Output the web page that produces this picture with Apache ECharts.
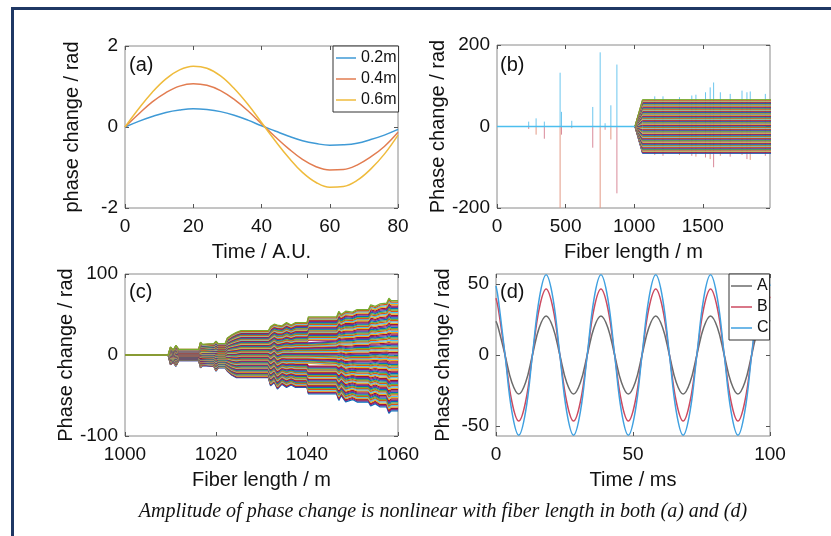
<!DOCTYPE html>
<html>
<head>
<meta charset="utf-8">
<script src="https://cdn.jsdelivr.net/npm/echarts@6/dist/echarts.min.js"></script>
<style>
  html, body { margin: 0; padding: 0; background: #fff; }
  #chart { width: 831px; height: 536px; }
</style>
</head>
<body>
<div id="chart"></div>
<script>
// ---------- (a) phase change vs time for three fibre lengths ----------
const timeAU = [0, 4, 8, 12, 16, 20, 24, 28, 32, 36, 40, 44, 48, 52, 56, 60, 64, 68, 72, 76, 80];
const phase02 = [0, 0.14, 0.26, 0.36, 0.42, 0.45, 0.43, 0.38, 0.29, 0.17, 0.03, -0.10, -0.23, -0.34, -0.41, -0.45, -0.44, -0.40, -0.31, -0.20, -0.06];
const phase04 = [0, 0.32, 0.62, 0.85, 1.01, 1.07, 1.03, 0.90, 0.68, 0.40, 0.08, -0.24, -0.54, -0.80, -0.98, -1.06, -1.05, -0.94, -0.74, -0.48, -0.13];
const phase06 = [0, 0.45, 0.86, 1.19, 1.41, 1.50, 1.45, 1.26, 0.95, 0.56, 0.11, -0.34, -0.76, -1.12, -1.37, -1.49, -1.47, -1.32, -1.04, -0.67, -0.20];
const namesA = ['0.2m', '0.4m', '0.6m'];

// ---------- (b) whole fibre: isolated spikes, then a dense band ----------
const spikeX    = [231, 285, 345, 460, 470, 545, 698, 752, 788, 830, 874, 1150, 1210, 1330, 1420, 1450, 1520, 1554, 1579, 1628, 1700, 1786, 1822, 1846, 1956];
const spikeUp   = [12, 20, 12, 132, 36, 14, 48, 182, 8, 52, 152, 74, 74, 72, 76, 78, 84, 96, 108, 84, 80, 88, 84, 86, 80];
const spikeDown = [-6, -20, -30, -200, -20, -4, -52, -200, -8, -32, -164, -70, -72, -70, -72, -74, -76, -80, -100, -72, -74, -70, -80, -82, -72];
const bandBX   = [0, 1005, 1060, 2000];
const bandBTop = [0, 0, 66, 66];
const bandBBot = [0, 0, -66, -66];
const baseBX   = [0, 1005];

// ---------- (c) zoom on 1000-1060 m: stepwise growing envelope ----------
const envX   = [1000, 1009.5, 1010, 1010.6, 1011.2, 1011.8, 1016.2, 1016.6, 1017, 1019.5, 1020, 1020.5, 1022, 1022.5, 1023.5, 1024.5, 1025.5, 1031.5, 1032, 1032.8, 1033.5, 1034.5, 1035.5, 1036.5, 1037.5, 1040, 1040.3, 1046.5, 1047, 1047.5, 1048.5, 1050, 1051, 1053.5, 1054, 1055, 1056, 1057.5, 1058, 1058.5, 1060];
const envTop = [0, 0, 10, 6, 12, 7, 7, 16, 13, 14, 17, 14, 14, 21, 25, 28, 30, 30, 35, 38, 37, 36, 40, 37, 40, 40, 47, 47, 54, 50, 54, 53, 56, 56, 62, 60, 63, 64, 70, 67, 67];
const envBot = [0, 0, -12, -9, -14, -7, -7, -16, -13, -14, -20, -16, -16, -20, -25, -28, -28, -28, -38, -34, -42, -36, -40, -37, -40, -40, -48, -48, -56, -50, -58, -55, -58, -58, -63, -60, -64, -64, -72, -69, -69];

// ---------- (d) phase change vs time at points A, B, C ----------
const timeMs = [0, 0.8, 3.3, 5.8, 8.3, 10.8, 13.3, 15.8, 18.3, 20.8, 23.3, 25.8, 28.3, 30.8, 33.3, 35.8, 38.3, 40.8, 43.3, 45.8, 48.3, 50.8, 53.3, 55.8, 58.3, 60.8, 63.3, 65.8, 68.3, 70.8, 73.3, 75.8, 78.3, 80.8, 83.3, 85.8, 88.3, 90.8, 93.3, 95.8, 98.3, 100];
const phaseA = [23.7, 19.4,
  0, -19.4, -27.5, -19.4, 0, 19.4, 27.5, 19.4,
  0, -19.4, -27.5, -19.4, 0, 19.4, 27.5, 19.4,
  0, -19.4, -27.5, -19.4, 0, 19.4, 27.5, 19.4,
  0, -19.4, -27.5, -19.4, 0, 19.4, 27.5, 19.4,
  0, -19.4, -27.5, -19.4, 0, 19.4, 27.5, 23.7];
const phaseB = [40.0, 32.9,
  0, -32.9, -46.5, -32.9, 0, 32.9, 46.5, 32.9,
  0, -32.9, -46.5, -32.9, 0, 32.9, 46.5, 32.9,
  0, -32.9, -46.5, -32.9, 0, 32.9, 46.5, 32.9,
  0, -32.9, -46.5, -32.9, 0, 32.9, 46.5, 32.9,
  0, -32.9, -46.5, -32.9, 0, 32.9, 46.5, 40.0];
const phaseC = [48.6, 39.9,
  0, -39.9, -56.5, -39.9, 0, 39.9, 56.5, 39.9,
  0, -39.9, -56.5, -39.9, 0, 39.9, 56.5, 39.9,
  0, -39.9, -56.5, -39.9, 0, 39.9, 56.5, 39.9,
  0, -39.9, -56.5, -39.9, 0, 39.9, 56.5, 39.9,
  0, -39.9, -56.5, -39.9, 0, 39.9, 56.5, 48.6];
const namesD = ['A', 'B', 'C'];

// ---------- tick labels ----------
const ticksAX = [0, 20, 40, 60, 80];
const ticksAY = [-2, 0, 2];
const ticksBX = [0, 500, 1000, 1500];
const ticksBY = [-200, 0, 200];
const ticksCX = [1000, 1020, 1040, 1060];
const ticksCY = [-100, 0, 100];
const ticksDX = [0, 50, 100];
const ticksDY = [-50, 0, 50];

// ---------- styling ----------
const FONT = '"Liberation Sans", Arial, sans-serif';
const TXT = '#111';
const BOX = '#8a8a8a';
const TRACE_COLORS = ['#0072BD', '#D95319', '#EDB120', '#7E2F8E', '#77AC30', '#4DBEEE', '#A2142F'];
const STRIPES = 84; // number of traces drawn inside each band

const grids = [
  { left: 125, top: 46, width: 273, height: 162 },
  { left: 497, top: 45, width: 273, height: 163 },
  { left: 125, top: 274, width: 273, height: 162 },
  { left: 496, top: 274, width: 274, height: 162 }
].map(g => Object.assign({ show: true, borderColor: BOX, borderWidth: 1, backgroundColor: '#fff' }, g));

const plain = v => String(v);

function xPair(gi, min, max, ticks, name) {
  const base = {
    type: 'value', gridIndex: gi, min, max,
    axisLine: { show: false, onZero: false },
    splitLine: { show: false },
    axisTick: { inside: true, length: 4, lineStyle: { color: '#555' }, customValues: ticks }
  };
  return [
    Object.assign({}, base, {
      position: 'bottom',
      axisLabel: { customValues: ticks, formatter: plain, color: TXT, fontSize: 19, fontFamily: FONT, margin: 9 },
      name, nameLocation: 'middle', nameGap: 34,
      nameTextStyle: { fontSize: 20, color: TXT, fontFamily: FONT }
    }),
    Object.assign({}, base, { position: 'top', axisLabel: { show: false } })
  ];
}
function yPair(gi, min, max, ticks, name) {
  const base = {
    type: 'value', gridIndex: gi, min, max,
    axisLine: { show: false, onZero: false },
    splitLine: { show: false },
    axisTick: { inside: true, length: 4, lineStyle: { color: '#555' }, customValues: ticks }
  };
  return [
    Object.assign({}, base, {
      position: 'left',
      axisLabel: { customValues: ticks, formatter: plain, color: TXT, fontSize: 19, fontFamily: FONT, margin: 7 },
      name, nameLocation: 'middle', nameGap: 43,
      nameTextStyle: { fontSize: 20, color: TXT, fontFamily: FONT }
    }),
    Object.assign({}, base, { position: 'right', axisLabel: { show: false } })
  ];
}

const xAxis = [].concat(
  xPair(0, 0, 80, ticksAX, 'Time / A.U.'),
  xPair(1, 0, 1990, ticksBX, 'Fiber length / m'),
  xPair(2, 1000, 1060, ticksCX, 'Fiber length / m'),
  xPair(3, 0, 100, ticksDX, 'Time / ms')
);
const yAxis = [].concat(
  yPair(0, -2, 2, ticksAY, 'phase change / rad'),
  yPair(1, -200, 200, ticksBY, 'Phase change / rad'),
  yPair(2, -100, 100, ticksCY, 'Phase change / rad'),
  yPair(3, -57, 57, ticksDY, 'Phase change / rad')
);

const zip = (xs, ys) => xs.map((x, i) => [x, ys[i]]);
const series = [];

// (a)
[[phase02, '#3f9ad6'], [phase04, '#e27c50'], [phase06, '#efbb3c']].forEach(([ys, c], i) => {
  series.push({
    type: 'line', name: namesA[i], xAxisIndex: 0, yAxisIndex: 0,
    data: zip(timeAU, ys), smooth: 0.4, symbol: 'none',
    lineStyle: { color: c, width: 1.5 }, itemStyle: { color: c }, silent: true
  });
});

// (b) spikes first so the dense band covers their lower parts
spikeX.forEach((x, i) => {
  series.push({
    type: 'line', xAxisIndex: 2, yAxisIndex: 2, symbol: 'none', silent: true,
    data: [[x, 0], [x, spikeDown[i]]],
    lineStyle: { color: i % 2 ? '#e39a86' : '#d98a9a', width: 1 }
  });
  series.push({
    type: 'line', xAxisIndex: 2, yAxisIndex: 2, symbol: 'none', silent: true,
    data: [[x, 0], [x, spikeUp[i]]],
    lineStyle: { color: '#6cc6ee', width: 1 }
  });
});

// Traces inside a band: each sits at a fixed relative position between bottom and top
function bandSeries(xs, tops, bots, xi, yi, width) {
  for (let k = 0; k < STRIPES; k++) {
    const f = k / (STRIPES - 1);
    series.push({
      type: 'line', xAxisIndex: xi, yAxisIndex: yi, symbol: 'none', silent: true,
      data: xs.map((x, i) => [x, bots[i] + f * (tops[i] - bots[i])]),
      lineStyle: { color: TRACE_COLORS[(k * 3) % TRACE_COLORS.length], width }
    });
  }
}
bandSeries(bandBX, bandBTop, bandBBot, 2, 2, 1);
series.push({
  type: 'line', xAxisIndex: 2, yAxisIndex: 2, symbol: 'none', silent: true,
  data: zip(baseBX, [0, 0]), lineStyle: { color: '#4DBEEE', width: 1.5 }
});

// (c)
bandSeries(envX, envTop, envBot, 4, 4, 1.3);

// (d)
[[phaseA, '#6b6b6b'], [phaseB, '#cc4a60'], [phaseC, '#3fa0e0']].forEach(([ys, c], i) => {
  series.push({
    type: 'line', name: namesD[i], xAxisIndex: 6, yAxisIndex: 6,
    data: zip(timeMs, ys), smooth: 0.4, symbol: 'none',
    lineStyle: { color: c, width: 1.5 }, itemStyle: { color: c }, silent: true
  });
});

const legendBase = {
  orient: 'vertical', selectedMode: false, icon: 'rect',
  backgroundColor: '#fff', borderColor: '#333', borderWidth: 1, borderRadius: 0,
  itemGap: 5, itemHeight: 1.5, z: 10,
  textStyle: { fontSize: 16, color: TXT, fontFamily: FONT, lineHeight: 16 }
};

const option = {
  animation: false,
  backgroundColor: '#fff',
  grid: grids,
  xAxis, yAxis, series,
  legend: [
    Object.assign({}, legendBase, { data: namesA, left: 333, top: 46, itemWidth: 20, padding: [4, 2, 4, 3] }),
    Object.assign({}, legendBase, { data: namesD, left: 729, top: 274, itemWidth: 21, padding: [4, 1, 4, 2] })
  ],
  graphic: [
    { type: 'line', shape: { x1: 11, y1: 8.5, x2: 831, y2: 8.5 }, style: { stroke: '#1f3864', lineWidth: 3 } },
    { type: 'line', shape: { x1: 12.5, y1: 7, x2: 12.5, y2: 536 }, style: { stroke: '#1f3864', lineWidth: 3 } },
    { type: 'text', x: 129, y: 55, z: 20, style: { text: '(a)', font: '20px ' + FONT, fill: TXT } },
    { type: 'text', x: 500, y: 55, z: 20, style: { text: '(b)', font: '20px ' + FONT, fill: TXT } },
    { type: 'text', x: 129, y: 282, z: 20, style: { text: '(c)', font: '20px ' + FONT, fill: TXT } },
    { type: 'text', x: 500, y: 282, z: 20, style: { text: '(d)', font: '20px ' + FONT, fill: TXT } },
    { type: 'text', x: 443, y: 512, z: 20, style: {
        text: 'Amplitude of phase change is nonlinear with fiber length in both (a) and (d)',
        font: 'italic 20px "Liberation Serif", "Times New Roman", serif', fill: TXT,
        align: 'center', verticalAlign: 'middle' } }
  ]
};

const chart = echarts.init(document.getElementById('chart'), null, { renderer: 'canvas' });
chart.setOption(option);
</script>
</body>
</html>
